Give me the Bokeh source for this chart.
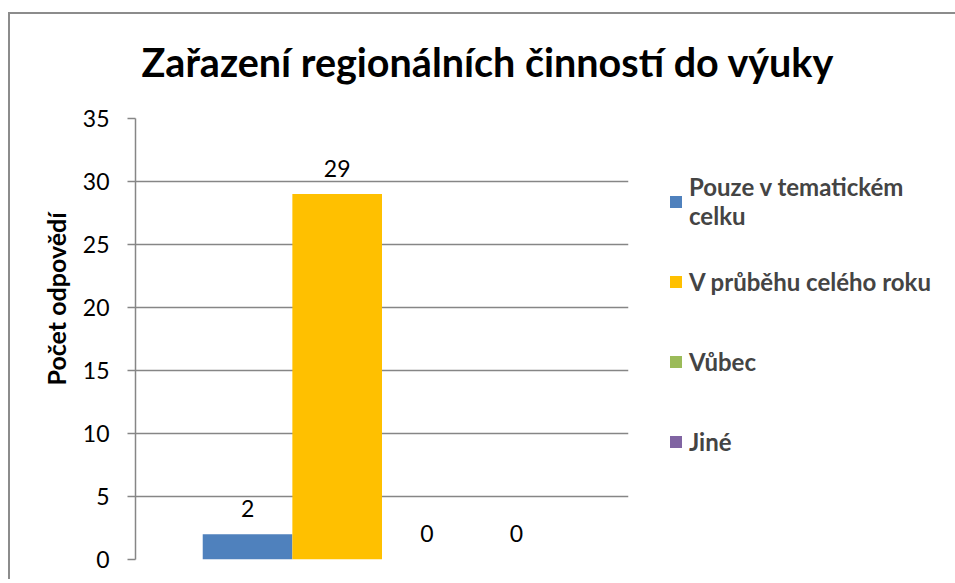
import math
from bokeh.plotting import figure
from bokeh.models import ColumnDataSource, Legend, LegendItem, LabelSet, Title, Range1d, FixedTicker
from bokeh.embed import file_html
from bokeh.resources import INLINE
from bokeh.core.properties import value

title_text = "Zařazení regionálních činností do výuky"
series = ["Pouze v tematickém celku", "V průběhu celého roku", "Vůbec", "Jiné"]
legend_labels = ["Pouze v tematickém\ncelku", "V průběhu celého roku", "Vůbec", "Jiné"]
values = [2, 29, 0, 0]
colors = ["#4F81BD", "#FFC000", "#9BBB59", "#8064A2"]
y_ticks = [0, 5, 10, 15, 20, 25, 30, 35]
y_label = "Počet odpovědí"

FONT = "Lato"
GRID = "#868686"
FRAME = "#8c8c8c"

p = figure(frame_width=493, frame_height=441, output_backend="svg", toolbar_location=None,
           x_range=Range1d(0, 5.5), y_range=Range1d(0, 35),
           min_border_left=135, min_border_right=325, min_border_top=118, min_border_bottom=20)
p.styles = {
    "background-image": f"linear-gradient({FRAME}, {FRAME}), linear-gradient({FRAME}, {FRAME})",
    "background-size": "100% 2px, 2px 100%",
    "background-position": "8px 12px, 8px 12px",
    "background-repeat": "no-repeat",
}
p.outline_line_color = None
p.background_fill_color = None
p.border_fill_color = None

p.title.text = title_text
p.title.text_font = FONT
p.title.text_font_style = "bold"
p.title.text_font_size = "39.5px"
p.title.text_color = "black"
p.title.align = "left"
p.title.offset = 6
p.title.standoff = 67

p.xaxis.visible = False
p.xgrid.visible = False
p.ygrid.grid_line_color = GRID
p.ygrid.grid_line_width = 1.5
p.yaxis.ticker = FixedTicker(ticks=y_ticks)
p.yaxis.minor_tick_line_color = None
p.yaxis.major_tick_out = 8
p.yaxis.major_tick_in = 0
p.yaxis.major_tick_line_color = GRID
p.yaxis.major_tick_line_width = 1.5
p.yaxis.axis_line_color = GRID
p.yaxis.axis_line_width = 1.5
p.yaxis.major_label_text_font = FONT
p.yaxis.major_label_text_font_size = "23px"
p.yaxis.major_label_text_color = "black"
p.yaxis.major_label_standoff = 18

ylab = Title(text=y_label, align="left", offset=174, standoff=17, text_font=FONT,
             text_font_style="bold", text_font_size="25px", text_color="black")
p.add_layout(ylab, "left")

xs = [i + 1.25 for i in range(len(values))]
src = ColumnDataSource(dict(x=xs, top=values, color=colors, name=series,
                            label=[str(v) for v in values]))
renderers = []
for i in range(len(values)):
    s = ColumnDataSource(dict(x=[xs[i]], top=[values[i]]))
    r = p.vbar(x="x", top="top", width=1.0, bottom=0, source=s,
               fill_color=colors[i], line_color=None)
    renderers.append(r)

labels = LabelSet(x="x", y="top", text="label", source=src, y_offset=26,
                  text_align="center", text_baseline="middle",
                  text_font=value(FONT), text_font_size="23px", text_color="black")
p.add_layout(labels)

items = [LegendItem(label=legend_labels[i], renderers=[renderers[i]]) for i in range(len(series))]
legend = Legend(items=items, location=(40, 80))
legend.label_text_font = FONT
legend.label_text_font_style = "bold"
legend.label_text_font_size = "24px"
legend.label_text_line_height = 1.5
legend.glyph_width = 15
legend.glyph_height = 15
legend.label_standoff = 6
legend.label_height = 76
legend.spacing = 4
legend.padding = 0
legend.margin = 0
legend.border_line_color = None
legend.background_fill_alpha = 0
p.add_layout(legend, "right")

open("out.html", "w").write(file_html(p, INLINE))
